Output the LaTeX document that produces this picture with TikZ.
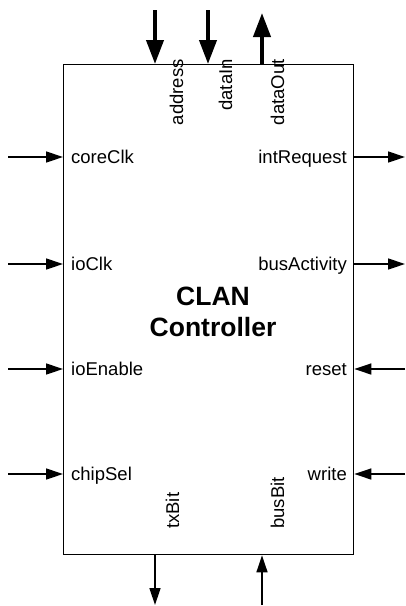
\documentclass[tikz,border=0pt]{standalone}
\usepackage{fontspec}
\setmainfont{Liberation Sans}
\usetikzlibrary{arrows.meta}
\begin{document}
\begin{tikzpicture}[x=1pt,y=-1pt,
  lbl/.style={font=\fontsize{18.5}{21}\selectfont, inner sep=0pt, text height=13pt, text depth=0pt},
  vlbl/.style={font=\fontsize{18.5}{21}\selectfont, inner sep=0pt, rotate=90},
  thinarrow/.style={line width=1.4pt, -{Triangle[length=17pt,width=11pt]}},
  thickarrow/.style={line width=4pt, -{Triangle[length=24pt,width=17pt]}},
  title/.style={font=\bfseries\fontsize{26.5}{31}\selectfont, align=center, inner sep=0pt}
  ]
\useasboundingbox (0,0) rectangle (406,606);
\node[draw, line width=1.3pt, minimum width=290pt, minimum height=490pt, inner sep=0pt, anchor=north west] (box) at (63,64) {};
\node[title] (t) at (213,312) {CLAN\\Controller};

% left inputs
\coordinate (lA) at (8,157);
\coordinate (lB) at (8,264);
\coordinate (lC) at (8,369);
\coordinate (lD) at (8,474);
\draw[thinarrow] (lA) -- (lA -| box.west);
\draw[thinarrow] (lB) -- (lB -| box.west);
\draw[thinarrow] (lC) -- (lC -| box.west);
\draw[thinarrow] (lD) -- (lD -| box.west);
\node[lbl, anchor=west] (coreClk) at (71,157) {coreClk};
\node[lbl, anchor=west] (ioClk) at (71,264) {ioClk};
\node[lbl, anchor=west] (ioEnable) at (71,369) {ioEnable};
\node[lbl, anchor=west] (chipSel) at (71,474) {chipSel};

% right side
\coordinate (rA) at (405,157);
\coordinate (rB) at (405,264);
\coordinate (rC) at (405,369);
\coordinate (rD) at (405,474);
\draw[thinarrow] (rA -| box.east) -- (rA);
\draw[thinarrow] (rB -| box.east) -- (rB);
\draw[thinarrow] (rC) -- (rC -| box.east);
\draw[thinarrow] (rD) -- (rD -| box.east);
\node[lbl, anchor=east] (intRequest) at (347,157) {intRequest};
\node[lbl, anchor=east] (busActivity) at (347,264) {busActivity};
\node[lbl, anchor=east] (reset) at (347,369) {reset};
\node[lbl, anchor=east] (write) at (347,474) {write};

% top
\coordinate (tA) at (155,10);
\coordinate (tB) at (208,10);
\coordinate (tC) at (262,13);
\draw[thickarrow] (tA) -- (tA |- box.north);
\draw[thickarrow] (tB) -- (tB |- box.north);
\draw[thickarrow] (tC |- box.north) -- (tC);
\node[vlbl, anchor=base east] (address) at (183,59) {address};
\node[vlbl, anchor=base east] (dataIn) at (232,59) {dataIn};
\node[vlbl, anchor=base east] (dataOut) at (284,59) {dataOut};

% bottom
\coordinate (bA) at (155,605);
\coordinate (bB) at (262,605);
\draw[thinarrow] (bA |- box.south) -- (bA);
\draw[thinarrow] (bB) -- (bB |- box.south);
\node[vlbl, anchor=base west] (txBit) at (179,529) {txBit};
\node[vlbl, anchor=base west] (busBit) at (284,529) {busBit};
\end{tikzpicture}
\end{document}
